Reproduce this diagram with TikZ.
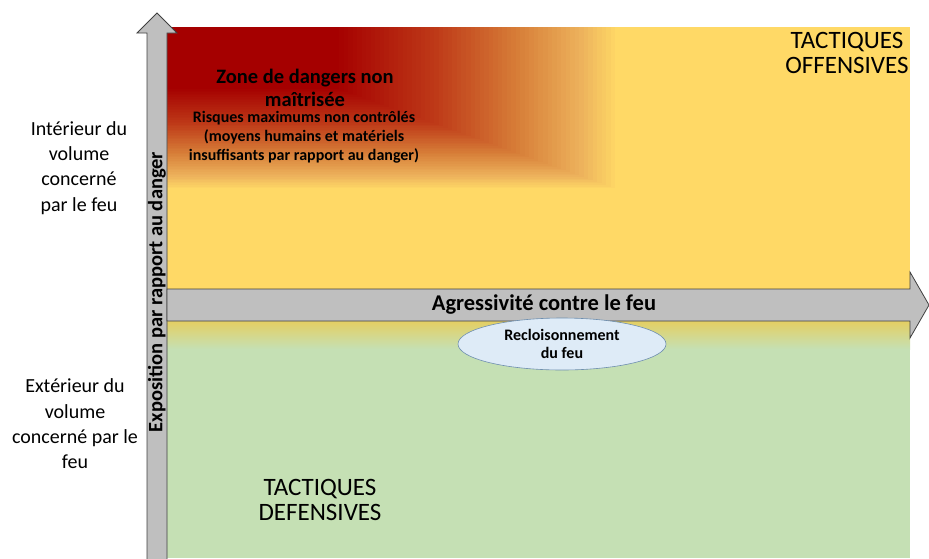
\documentclass[tikz,border=0pt]{standalone}
\usepackage{fontspec}
\setmainfont{Carlito}
\usetikzlibrary{shapes.geometric}
\definecolor{yel}{HTML}{FFD966}
\definecolor{grn}{HTML}{C5E0B4}
\definecolor{dred}{HTML}{A50000}
\definecolor{ror}{HTML}{BE3A18}
\definecolor{org}{HTML}{D77E38}
\definecolor{lor}{HTML}{EDB25C}
\definecolor{arrowfill}{HTML}{BFBFBF}
\definecolor{arrowline}{HTML}{404040}
\definecolor{ellfill}{HTML}{DEEBF7}
\definecolor{elline}{HTML}{6F8FAF}
\definecolor{bandtop}{HTML}{E4CF62}
\tikzset{
  arrowshape/.style={fill=arrowfill, draw=arrowline, line width=0.8pt, line join=miter},
  sidelabel/.style={align=center, font=\fontsize{20}{25.3}\selectfont},
  tactic/.style={align=center, font=\fontsize{25}{24.5}\selectfont},
}
\begin{document}
\begin{tikzpicture}[x=1pt, y=-1pt]
\useasboundingbox (0,0) rectangle (929,558);
% backgrounds
\fill[yel] (167,27) rectangle (910,322);
\fill[grn] (167,348) rectangle (910,558);
\shade[top color=bandtop, bottom color=grn] (167,321) rectangle (910,349);
% danger gradient (rectangular path gradient from top-left corner)
\foreach \i in {100,99,...,0}{
  \ifnum\i>92
    \pgfmathsetmacro\p{(\i-92)/8*100}\colorlet{cc}{yel!\p!lor}
  \else\ifnum\i>78
    \pgfmathsetmacro\p{(\i-78)/14*100}\colorlet{cc}{lor!\p!org}
  \else\ifnum\i>60
    \pgfmathsetmacro\p{(\i-60)/18*100}\colorlet{cc}{org!\p!ror}
  \else\ifnum\i>38
    \pgfmathsetmacro\p{(\i-38)/22*100}\colorlet{cc}{ror!\p!dred}
  \else
    \colorlet{cc}{dred}
  \fi\fi\fi\fi
  \fill[cc] (167,27) rectangle ({167+4.53*\i},{27+1.63*\i});
}
% vertical arrow
\draw[arrowshape] (147,560) -- (147,33) -- (137,33) -- (157,13) -- (177,33) -- (167,33) -- (167,560);
% horizontal arrow
\draw[arrowshape] (167,289) -- (910,289) -- (910,272) -- (929,305) -- (910,338) -- (910,321) -- (167,321) -- cycle;
% ellipse
\node[ellipse, draw=elline, fill=ellfill, line width=0.6pt, minimum width=208pt, minimum height=52pt, inner sep=0pt, align=center,
      font=\bfseries\fontsize{16}{17.5}\selectfont] (reclo) at (562,344) {Recloisonnement\\du feu};
% texts
\node[font=\bfseries\fontsize{22.5}{20}\selectfont] (agress) at (544,305) {Agressivité contre le feu};
\node[rotate=90, font=\bfseries\fontsize{20.5}{18}\selectfont] (expo) at (157,292) {Exposition par rapport au danger};
\node[tactic] (off) at (847,53) {TACTIQUES\\OFFENSIVES};
\node[tactic] (def) at (320,500) {TACTIQUES\\DEFENSIVES};
\node[align=center, font=\bfseries\fontsize{20.5}{23.5}\selectfont] (zone) at (305,88) {Zone de dangers non\\maîtrisée};
\node[align=center, font=\bfseries\fontsize{16}{19}\selectfont] (risk) at (304,137) {Risques maximums non contrôlés\\(moyens humains et matériels\\insuffisants par rapport au danger)};
\node[sidelabel] (inter) at (79,168) {Intérieur du\\volume\\concerné\\par le feu};
\node[sidelabel] (exter) at (75,424) {Extérieur du\\volume\\concerné par le\\feu};
\end{tikzpicture}
\end{document}
